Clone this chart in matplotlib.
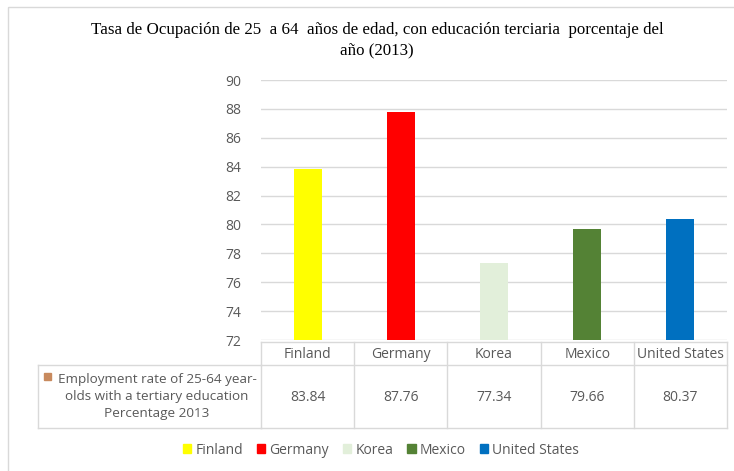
import matplotlib.pyplot as plt
from matplotlib.patches import Rectangle
from matplotlib.transforms import blended_transform_factory

countries = ['Finland', 'Germany', 'Korea', 'Mexico', 'United States']
values = [83.84, 87.76, 77.34, 79.66, 80.37]
colors = ['#FFFF00', '#FF0000', '#E2EFDA', '#548235', '#0070C0']
series_label = 'Employment rate of 25-64 year-\nolds with a tertiary education\nPercentage 2013'
title = 'Tasa de Ocupación de 25  a 64  años de edad, con educación terciaria  porcentaje del\naño (2013)'
yticks = list(range(72, 91, 2))

W, H = 734, 471
txt = '#595959'
grid = '#D9D9D9'
sans = 'Open Sans'

fig = plt.figure(figsize=(W / 100, H / 100), dpi=100)

# overlay axes in pixel coordinates (y down) for frame, table and legend
ov = fig.add_axes([0, 0, 1, 1])
ov.set_xlim(0, W)
ov.set_ylim(H, 0)
ov.axis('off')
ov.add_patch(Rectangle((8, 7), W, H, fill=False, ec=grid, lw=1))

# plot area: x 261..727, y 80..340 px
ax = fig.add_axes([261 / W, (H - 340) / H, (727 - 261) / W, 260 / H])
ax.set_zorder(2)
ax.patch.set_alpha(0)
x = list(range(len(countries)))
ax.bar(x, values, width=0.3, color=colors, zorder=3)
ax.set_xlim(-0.5, len(countries) - 0.5)
ax.set_ylim(72, 90)
ax.set_yticks(yticks)
ax.set_xticks([])
ax.grid(axis='y', color=grid, lw=1, zorder=0)
for s in ax.spines.values():
    s.set_visible(False)
ax.tick_params(axis='y', length=0, pad=14, labelcolor=txt, labelsize=10)
for lab in ax.get_yticklabels():
    lab.set_fontfamily(sans)

fig.text(377 / W, 1 - 40 / H, title, ha='center', va='center', fontsize=12.2,
         family='Liberation Serif', color='black', linespacing=1.35)

# data table below the plot
tr = blended_transform_factory(ax.transData, ov.transData)
top, mid, bot = 342, 365, 428
left = 38
n = len(countries)
ov.plot([-0.5, n - 0.5], [top, top], transform=tr, color=grid, lw=1)
ov.plot([-0.5, n - 0.5], [bot, bot], transform=tr, color=grid, lw=1)
ov.plot([left, 261], [bot, bot], color=grid, lw=1)
ov.plot([left, 261], [mid, mid], color=grid, lw=1)
ov.plot([-0.5, n - 0.5], [mid, mid], transform=tr, color=grid, lw=1)
ov.plot([left, left], [mid, bot], color=grid, lw=1)
for i in range(n + 1):
    ov.plot([i - 0.5, i - 0.5], [top, bot], transform=tr, color=grid, lw=1)
for i, (c, v) in enumerate(zip(countries, values)):
    ov.text(i, (top + mid) / 2 + 1, c, transform=tr, ha='center', va='center',
            fontsize=10, color=txt, family=sans)
    ov.text(i, (mid + bot) / 2 + 1, f'{v:.2f}', transform=tr, ha='center',
            va='center', fontsize=10, color=txt, family=sans)
ov.text(157, (mid + bot) / 2, series_label, ha='center', va='center',
        fontsize=9.7, color=txt, family=sans, linespacing=1.45)
ov.add_patch(Rectangle((44, 373), 7, 7, color='#C88A5E'))

# legend
handles = [Rectangle((0, 0), 1, 1, color=c) for c in colors]
fig.legend(handles, countries, loc='center', bbox_to_anchor=(381 / W, 1 - 450 / H),
           ncol=n, frameon=False, handlelength=0.6, handleheight=0.6,
           handletextpad=0.3, columnspacing=1.0,
           prop={'family': sans, 'size': 10}, labelcolor=txt)

fig.savefig('out.png', dpi=100)
